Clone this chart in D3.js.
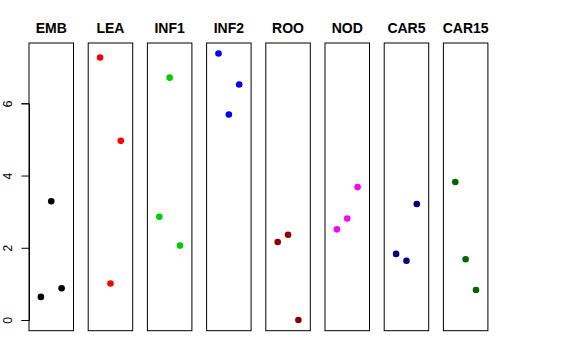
<!DOCTYPE html>
<html><head><meta charset="utf-8">
<script src="https://cdn.jsdelivr.net/npm/d3@7"></script>
<style>body{margin:0;background:#fff}svg{display:block}</style>
</head><body>
<svg id="c" width="576" height="360"></svg>
<script>
const categories = ["EMB","LEA","INF1","INF2","ROO","NOD","CAR5","CAR15"];
const colors = ["#000000","#FF0000","#00CD00","#0000FF","#8B0000","#FF00FF","#000080","#006400"];
// three replicate values per category (positions 1,2,3)
const rep1 = [0.64, 7.27, 2.86, 7.38, 2.16, 2.51, 1.83, 3.82];
const rep2 = [3.29, 1.01, 6.71, 5.69, 2.36, 2.81, 1.64, 1.68];
const rep3 = [0.88, 4.96, 2.06, 6.52, 0.00, 3.68, 3.21, 0.83];
const yTicks = [0, 2, 4, 6];

const svg = d3.select("#c");
const y = d3.scaleLinear().domain([0, 6]).range([320, 103.3]);
const yTop = 43, yBot = 330.7;
const panelX = d3.scaleBand().domain(categories).range([29, 29 + 59.2 * 8]).paddingInner(0);
const pw = 44.5;
const xIn = d3.scaleLinear().domain([-0.15, 4.15]).range([0, pw]);

categories.forEach((cat, i) => {
  const x0 = panelX(cat);
  const g = svg.append("g").attr("transform", `translate(${x0},0)`);
  g.append("rect").attr("x", 0).attr("y", yTop).attr("width", pw).attr("height", yBot - yTop)
    .attr("fill", "none").attr("stroke", "#000").attr("stroke-width", 1);
  g.append("text").attr("x", pw / 2).attr("y", 33.3).attr("text-anchor", "middle")
    .attr("font-family", "Liberation Sans, Arial, sans-serif").attr("font-weight", "bold")
    .attr("font-size", 14).text(cat);
  const vals = [rep1[i], rep2[i], rep3[i]];
  g.selectAll("circle").data(vals).enter().append("circle")
    .attr("cx", (d, j) => xIn(j + 1)).attr("cy", d => y(d)).attr("r", 3.3)
    .attr("fill", colors[i]);
});

const axis = d3.axisLeft(y).tickValues(yTicks).tickSize(7.5).tickPadding(4).tickFormat(d3.format("d"));
const ag = svg.append("g").attr("transform", "translate(29,0)").call(axis);
ag.select(".domain").attr("stroke", "#000");
ag.selectAll(".tick line").attr("stroke", "#000");
ag.selectAll(".tick text")
  .attr("font-family", "Liberation Sans, Arial, sans-serif").attr("font-size", 12).attr("fill", "#000")
  .attr("text-anchor", "middle")
  .attr("transform", "translate(-21,0) rotate(-90)").attr("x", 0).attr("y", 0)
  .attr("dy", "0.35em");
</script>
</body></html>
